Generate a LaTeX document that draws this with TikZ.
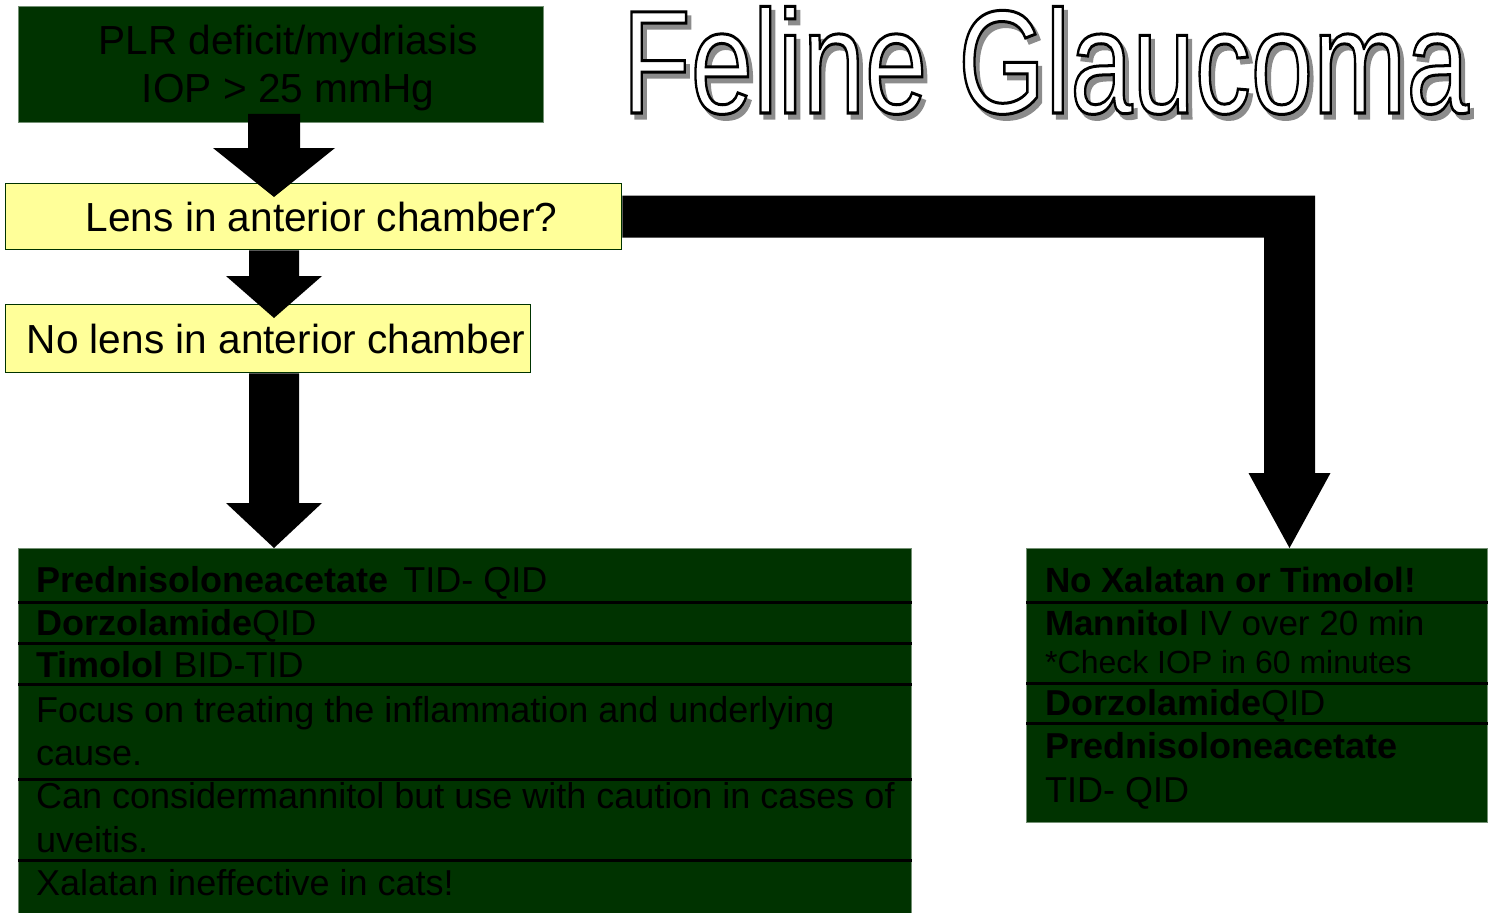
\documentclass[tikz,border=0pt]{standalone}
\usepackage{fontspec}
\setmainfont{Liberation Sans}
\usepackage{graphicx}
\usepackage{tikz}
\usetikzlibrary{positioning, calc}
\definecolor{fgdark}{HTML}{003300}
\definecolor{fgyellow}{HTML}{FFFF99}
\definecolor{fgshadow}{HTML}{8C8C8C}

% block arrow pointing down: top, tip, shaft half width, head half width, head length
\newcommand{\blockdown}[5]{%
  \fill[black] ($(#1)+(-#3,0)$) -- ($(#2)+(-#3,-#5)$) -- ($(#2)+(-#4,-#5)$) -- (#2)
    -- ($(#2)+(#4,-#5)$) -- ($(#2)+(#3,-#5)$) -- ($(#1)+(#3,0)$) -- cycle;}
% outlined glyphs (fill + stroke)
\newcommand{\rendertext}[2]{\special{pdf:code q #1 2 Tr}#2\special{pdf:code Q}}

\begin{document}
\begin{tikzpicture}[x=1pt, y=-1pt,
    greenbox/.style={fill=fgdark, draw=fgdark!55!white, line width=0.8pt, inner sep=0pt},
    yellowbox/.style={fill=fgyellow, draw=fgdark, line width=1.3pt, inner sep=0pt},
    bigtext/.style={font=\fontsize{40.6}{48}\selectfont},
    rowtext/.style={anchor=base west, inner sep=0pt, font=\fontsize{36}{43}\selectfont},
    narrowrow/.style={anchor=base west, inner sep=0pt, font=\fontsize{35}{43}\selectfont},
    smalltext/.style={anchor=base west, inner sep=0pt, font=\fontsize{32}{38}\selectfont},
    titletext/.style={anchor=base west, inner sep=0pt, font=\fontsize{147}{150}\selectfont},
    sepline/.style={black, line width=3pt}]

  \useasboundingbox (0,0) rectangle (1494,913);

  % title
  \node[titletext] (titleshadow) at (626,118)
    {\scalebox{0.762}[1]{\textcolor{fgshadow}{\rendertext{3 w}{Feline Glaucoma}}}};
  \node[titletext] (title) at (622,113)
    {\scalebox{0.762}[1]{\textcolor{white}{\rendertext{0 G 3 w}{Feline Glaucoma}}}};

  % boxes
  \node[greenbox, minimum width=525, minimum height=116, anchor=north west] (symptoms) at (18,6) {};
  \node[bigtext, align=center, inner sep=0pt] (symptomstext) at ($(symptoms.center)+(7,4)$)
    {PLR deficit/mydriasis\\IOP > 25 mmHg};
  \node[yellowbox, bigtext, minimum width=616, minimum height=66, anchor=north west]
    (lensq) at (5,183) {\hspace*{16pt}Lens in anterior chamber?};
  \node[yellowbox, bigtext, minimum width=525, minimum height=68, anchor=north west]
    (nolens) at (5,304) {\hspace*{16pt}No lens in anterior chamber};
  \node[greenbox, minimum width=893, minimum height=380, anchor=north west] (leftbox) at (18,548) {};
  \node[greenbox, minimum width=461, minimum height=274, anchor=north west] (rightbox) at (1026,548) {};

  \foreach \y in {602,643,684,779,860}
    \draw[sepline] (leftbox.west |- 0,\y) -- (leftbox.east |- 0,\y);
  \foreach \y in {602,683,723}
    \draw[sepline] (rightbox.west |- 0,\y) -- (rightbox.east |- 0,\y);

  % arrows
  \coordinate (axis) at (274,0);
  \coordinate (bend) at (1289.5,0);
  \coordinate (a1top) at ($(symptoms.south -| axis)+(0,-9)$);
  \coordinate (a1tip) at ($(lensq.north -| axis)+(0,14)$);
  \coordinate (a2tip) at ($(nolens.north -| axis)+(0,14)$);
  \blockdown{a1top}{a1tip}{26}{61}{49}
  \blockdown{lensq.south -| axis}{a2tip}{25}{48}{42}
  \blockdown{nolens.south -| axis}{leftbox.north -| axis}{25}{48}{45}
  \fill[black] ($(lensq.east)+(0,-21)$) -- ($(lensq.east -| bend)+(25.5,-21)$)
    -- ($(rightbox.north -| bend)+(25.5,-75)$) -- ($(rightbox.north -| bend)+(41,-75)$)
    -- (rightbox.north -| bend) -- ($(rightbox.north -| bend)+(-41,-75)$)
    -- ($(rightbox.north -| bend)+(-25.5,-75)$) -- ($(lensq.east -| bend)+(-25.5,21)$)
    -- ($(lensq.east)+(0,21)$) -- cycle;

  % left box rows
  \node[rowtext] (lpred) at (36,592) {\textbf{Prednisoloneacetate}\hspace{15pt}TID- QID};
  \node[rowtext] (ldorz) at (36,635) {\textbf{Dorzolamide}QID};
  \node[rowtext] (ltimo) at (36,677) {\textbf{Timolol} BID-TID};
  \node[rowtext] (lfocus) at (36,722) {Focus on treating the inflammation and underlying};
  \node[rowtext] (lfocusb) at (36,765) {cause.};
  \node[rowtext] (lmann) at (36,808) {Can considermannitol but use with caution in cases of};
  \node[rowtext] (lmannb) at (36,852) {uveitis.};
  \node[rowtext] (lxala) at (36,895) {Xalatan ineffective in cats!};

  % right box rows
  \node[narrowrow] (rno) at (1045,592) {\textbf{No Xalatan or Timolol!}};
  \node[narrowrow] (rmann) at (1045,635) {\textbf{Mannitol} IV over 20 min};
  \node[smalltext] (rcheck) at (1045,673) {*Check IOP in 60 minutes};
  \node[rowtext] (rdorz) at (1045,715) {\textbf{Dorzolamide}QID};
  \node[rowtext] (rpred) at (1045,758) {\textbf{Prednisoloneacetate}};
  \node[rowtext] (rpredb) at (1045,802) {TID- QID};
\end{tikzpicture}
\end{document}
